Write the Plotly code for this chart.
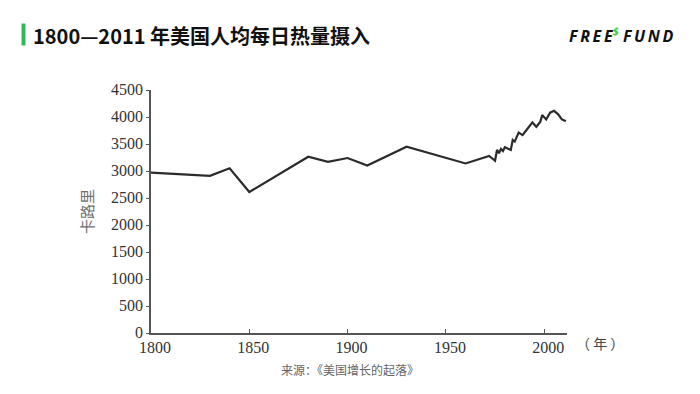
import plotly.graph_objects as go

years = [1800, 1830, 1840, 1850, 1880, 1890, 1900, 1910, 1930, 1960, 1972, 1975,
         1976, 1977, 1978, 1979, 1980, 1982, 1983, 1984, 1985, 1987, 1988, 1989,
         1991, 1994, 1996, 1998, 1999, 2001, 2003, 2005, 2007, 2009, 2010, 2011]
calories = [2970, 2910, 3050, 2610, 3265, 3170, 3240, 3100, 3450, 3140, 3280, 3190,
            3390, 3330, 3410, 3370, 3440, 3400, 3390, 3575, 3545, 3710, 3685, 3665,
            3760, 3900, 3820, 3910, 4035, 3955, 4080, 4115, 4055, 3955, 3940, 3920]

x_ticks = [1800, 1850, 1900, 1950, 2000]
y_ticks = [0, 500, 1000, 1500, 2000, 2500, 3000, 3500, 4000, 4500]

title_text = "1800—2011 年美国人均每日热量摄入"
y_title = "卡路里"
x_unit = "（ 年 ）"
source_text = "来源：《美国增长的起落》"

fig = go.Figure()
fig.add_trace(go.Scatter(x=years, y=calories, mode="lines",
                         line=dict(color="#2b2b2b", width=2.2),
                         showlegend=False, hoverinfo="skip"))

tick_font = dict(family="Liberation Serif, DejaVu Serif, serif", size=16, color="#333333")

L, R, T, B = 151, 133, 90, 61
PW, PH = 700 - L - R, 394 - T - B


def px(x):
    return (x - L) / PW


def py(y):
    return (394 - B - y) / PH


fig.update_layout(
    width=700, height=394,
    margin=dict(l=L, r=R, t=T, b=B),
    paper_bgcolor="white", plot_bgcolor="white",
    xaxis=dict(range=[1800, 2011.6], tickvals=x_ticks, ticktext=[str(v) for v in x_ticks],
               showgrid=False, zeroline=False, showline=True, linecolor="#555555", linewidth=1.5,
               ticks="inside", ticklen=4, tickcolor="#555555", tickfont=tick_font,
               ticklabelshift=4, ticklabelstandoff=-1, automargin=False),
    yaxis=dict(range=[0, 4500], tickvals=y_ticks, ticktext=[str(v) for v in y_ticks],
               showgrid=False, zeroline=False, showline=True, linecolor="#555555", linewidth=1.5,
               ticks="outside", ticklen=3, tickcolor="#555555", tickfont=tick_font,
               ticklabelshift=-1, automargin=False,
               title=dict(text=y_title, font=dict(family="Noto Sans CJK SC", size=15, color="#707070"),
                          standoff=14)),
)

fig.add_shape(type="rect", xref="paper", yref="paper",
              x0=px(21.5), x1=px(25.5), y0=py(23.5), y1=py(45.5),
              line=dict(width=0), fillcolor="#2fb85a")

fig.add_annotation(text="<b>" + title_text + "</b>", xref="paper", yref="paper",
                   x=px(31), y=py(36), xanchor="left", yanchor="middle", showarrow=False,
                   font=dict(family="Noto Sans CJK SC", size=20, color="#111111"))

logo = ("<b><i>F\u2009R\u2009E\u2009E<sup><span style='color:#3ccf3c'>$</span></sup>"
        " F\u2009U\u2009N\u2009D</i></b>")
fig.add_annotation(text=logo, xref="paper", yref="paper", x=px(567), y=py(35),
                   xanchor="left", yanchor="middle", showarrow=False,
                   font=dict(family="Open Sans, DejaVu Sans", size=16, color="#111111"))

fig.add_annotation(text=x_unit, xref="paper", yref="paper", x=px(574), y=py(343),
                   xanchor="left", yanchor="middle", showarrow=False,
                   font=dict(family="Noto Sans CJK SC", size=14, color="#444444"))

fig.add_annotation(text=source_text, xref="paper", yref="paper", x=px(350), y=py(369),
                   xanchor="center", yanchor="middle", showarrow=False,
                   font=dict(family="Noto Sans CJK SC", size=12, color="#666666"))

fig.write_html("out.html", config={"displayModeBar": False},
               post_script="document.body.style.margin='0';")
